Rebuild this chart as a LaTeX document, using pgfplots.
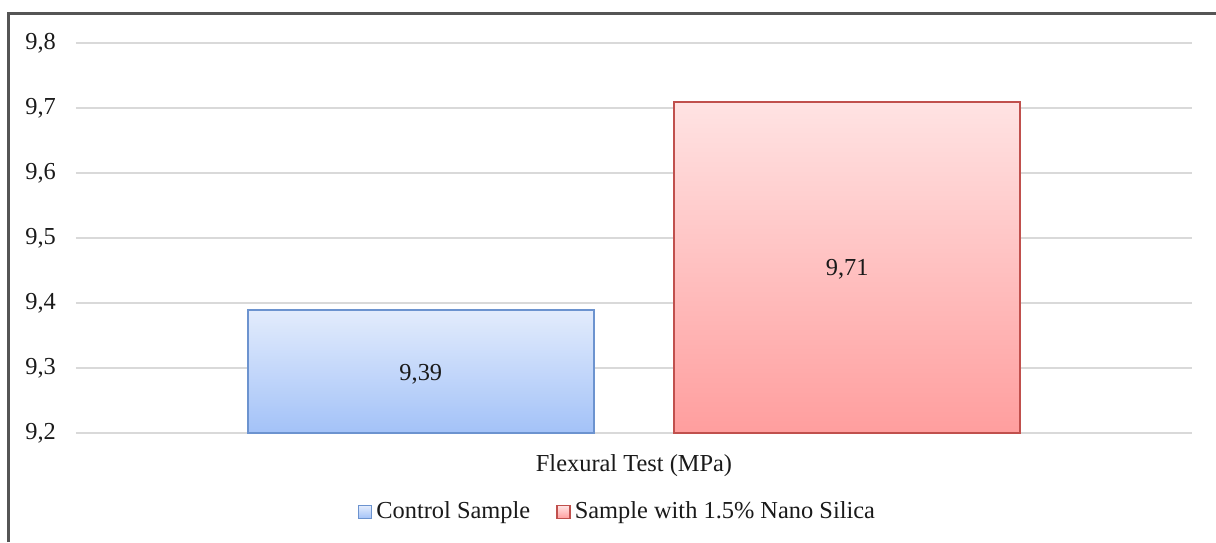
\documentclass[border=0pt]{standalone}
\usepackage{fontspec}
\setmainfont{Liberation Serif}
\usepackage{pgfplots}
\pgfplotsset{compat=1.18}
\definecolor{blueedge}{HTML}{6C93CF}
\definecolor{bluetop}{HTML}{E3ECFC}
\definecolor{bluebot}{HTML}{A3C2F8}
\definecolor{rededge}{HTML}{C0504D}
\definecolor{redtop}{HTML}{FFE3E3}
\definecolor{redbot}{HTML}{FF9E9E}
\definecolor{gridgray}{HTML}{D9D9D9}
\definecolor{framegray}{HTML}{555555}
\definecolor{txt}{HTML}{1A1A1A}
\newcommand{\chartfont}{\fontsize{12.2}{14}\selectfont}
\begin{document}
\begin{tikzpicture}[x=1pt,y=1pt]
\path[use as bounding box] (-38,-54.5) rectangle (570,216.5);
\begin{axis}[
  at={(0,0)}, anchor=south west,
  scale only axis, width=558pt, height=195pt,
  xmin=0, xmax=1, ymin=9.2, ymax=9.8,
  ytick={9.2,9.3,9.4,9.5,9.6,9.7,9.8},
  xtick={0.5}, xticklabels={Flexural Test (MPa)},
  axis line style={draw=none},
  major tick length=0pt,
  ymajorgrids, grid style={gridgray, line width=0.9pt},
  tick label style={font=\chartfont, text=txt},
  yticklabel style={xshift=-6.5pt, /pgf/number format/fixed, /pgf/number format/fixed zerofill, /pgf/number format/precision=1, /pgf/number format/use comma, /pgf/number format/assume math mode=true},
  xticklabel style={yshift=-7pt},
  legend style={at={(0.486,-0.2026)}, anchor=center, draw=none, font=\chartfont, text=txt,
     legend columns=2, /tikz/every even column/.append style={column sep=11pt},
     inner sep=0pt},
  legend image code/.code={\draw[#1, line width=0.8pt] (0pt,-3.2pt) rectangle (6.5pt,3.2pt);},
  nodes near coords,
  every node near coord/.append style={font=\chartfont, text=txt, anchor=center,
     /pgf/number format/fixed, /pgf/number format/precision=2, /pgf/number format/use comma, /pgf/number format/assume math mode=true},
]
\addplot[ybar, bar width=173pt, bar shift=0pt, draw=blueedge, line width=1pt,
  top color=bluetop, bottom color=bluebot,
  nodes near coords style={yshift=-32.2pt}]
  coordinates {(0.309,9.39)};
\addlegendentry{Control Sample}
\addplot[ybar, bar width=173pt, bar shift=0pt, draw=rededge, line width=1pt,
  top color=redtop, bottom color=redbot,
  nodes near coords style={yshift=-83.8pt}]
  coordinates {(0.691,9.71)};
\addlegendentry{Sample with 1.5\% Nano Silica}
\end{axis}
\draw[framegray, line width=1.5pt] (-33.5,-54.5) -- (-33.5,209.5) -- (570,209.5);
\end{tikzpicture}
\end{document}
